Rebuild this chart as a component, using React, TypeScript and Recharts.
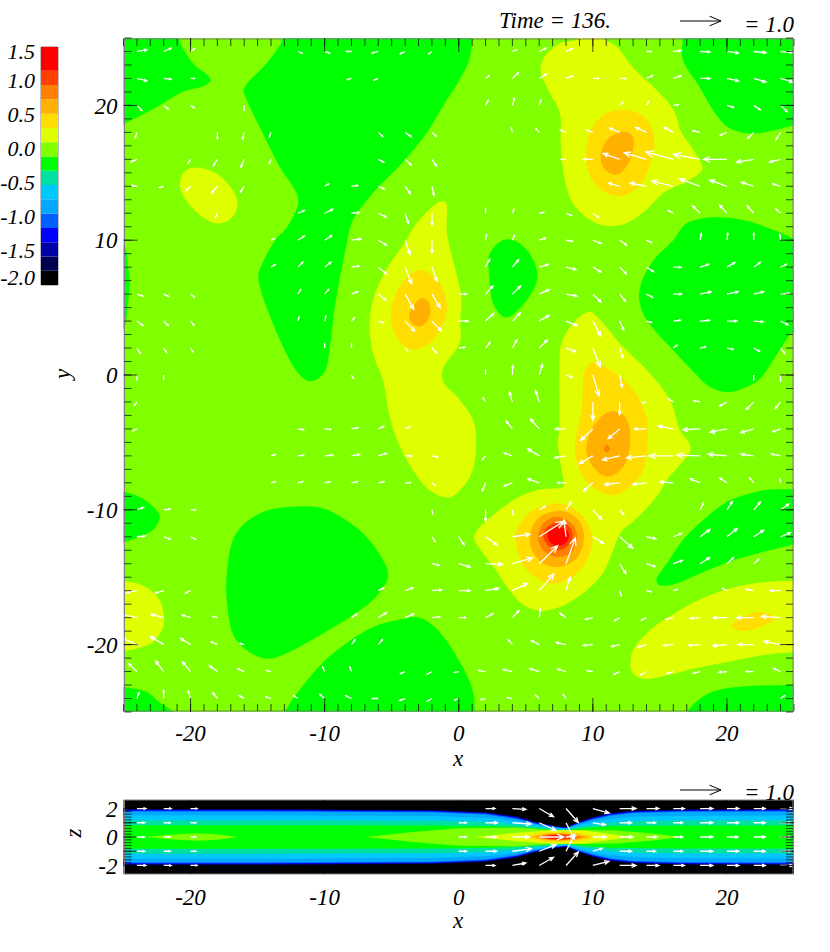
import { ScatterChart, Scatter, XAxis, YAxis, BarChart, Bar, ReferenceArea } from 'recharts';

const serif = 'Liberation Serif';
const labelFont = { fontFamily: serif, fontStyle: 'italic', fontSize: 23, fill: '#000' };
const unitPx = 41; // length of a 1.0 arrow

// colour levels, low to high
const levelColors = ['#000000', '#000050', '#0000a8', '#0000ff', '#0060ff', '#00a8ff', '#00c8ff', '#00e0a0', '#00ff00', '#7fff00', '#dfff00', '#ffdd00', '#ffb000', '#ff7f00', '#ff4000', '#ff0000'];
const levelHeights = [0.21, 0.21, 0.21, 0.21, 0.21, 0.21, 0.21, 0.21, 0.21, 0.21, 0.21, 0.21, 0.21, 0.21, 0.21, 0.35];
const barValues = [-2, -1.5, -1, -0.5, 0, 0.5, 1, 1.5];

const xLabelTicks = [-20, -10, 0, 10, 20];
const yLabelTicks = [-20, -10, 0, 10, 20];
const zLabelTicks = [-2, 0, 2];
const zMajorTicks = [-2, -1, 0, 1, 2];
const unitTicks = Array.from({ length: 51 }, (_, i) => i - 25);
const zMinorTicks = Array.from({ length: 21 }, (_, i) => -2 + i * 0.2);
const frameAnchor = [{ x: 0, y: 0 }];

// top view, contours of each level as [x, y]
const planeBase = [[-27, -27], [-27, 27], [27, 27], [27, -27]];
const greenTopLeft = [[-27, 27], [-20.9, 27], [-20.9, 25], [-19.8, 23.1], [-18.7, 22.2], [-18.5, 21.85], [-19.1, 21.4], [-20.6, 21], [-22.3, 20], [-25, 18.6], [-27, 17.6]];
const greenCentre = [[-13.1, 27], [-13.1, 25], [-14.35, 23.1], [-16, 21.3], [-15.85, 20.5], [-14.85, 18.4], [-13.35, 15.45], [-12.1, 13.5], [-12, 12.6], [-12.85, 10.9], [-13.7, 10], [-14.85, 7.8], [-14.9, 6.8], [-13.85, 3.8], [-12.6, 1.1], [-11.6, -0.25], [-10.9, -0.45], [-10, 0.25], [-9.6, 2.1], [-9.25, 5.05], [-8.3, 10], [-7.9, 11.5], [-6.4, 13.5], [-4.15, 15.8], [-2.4, 17.95], [-0.9, 20.4], [0.07, 21.9], [0.8, 23.4], [1, 25], [1.1, 27]];
const greenTopRight = [[16.6, 27], [16.7, 25], [16.7, 23.4], [18, 21.3], [19.2, 19.3], [20.2, 18.3], [21.95, 17.9], [23.7, 18.2], [25, 18.55], [27, 19], [27, 27]];
const greenSmall = [[3.3, 10], [2.3, 9], [2.26, 7.55], [2.56, 5.3], [3.43, 4.28], [4.3, 4.7], [5.42, 6.06], [5.87, 7.3], [5.42, 8.8], [4.3, 9.9]];
const greenRight = [[16, 10], [17, 11.25], [19, 11.7], [21.2, 11.5], [23.5, 10.75], [25, 10.1], [27, 9.2], [27, 0.6], [25, 3.1], [23.95, 1.85], [22.5, -0.25], [21.5, -0.87], [20.1, -1.27], [18.7, -0.87], [17.5, 0.24], [15.5, 2.35], [14, 4.1], [13.45, 5.6], [13.65, 6.93], [14.5, 8.5]];
const greenEdge = [[-27, 11], [-25, 9.7], [-24.65, 8], [-24.55, 6.8], [-24.7, 5], [-25, 3.4], [-27, 1.5]];
const greenLeft = [[-27, -8.2], [-25.1, -8.6], [-23.6, -9.15], [-22.45, -10.15], [-22.3, -10.65], [-22.8, -11.5], [-24.05, -12.1], [-25.1, -12.45], [-27, -13]];
const greenLower = [[-11.9, -9.75], [-14.1, -10], [-15.85, -10.9], [-16.85, -12.25], [-17.3, -14.75], [-17.3, -16.7], [-16.85, -19.2], [-15.85, -20.4], [-14.35, -21.05], [-12.85, -20.65], [-10.6, -19.45], [-8.1, -17.95], [-6.4, -16.7], [-5.3, -15.1], [-5.5, -14], [-6.9, -12], [-8.6, -10.65], [-10.1, -9.9]];
const greenBottom = [[-14.4, -27], [-13, -25], [-12.1, -23.65], [-10.1, -21.3], [-8.1, -19.7], [-6.4, -18.7], [-4.65, -18.2], [-2.9, -18], [-1.4, -19.1], [0.2, -21.5], [1.04, -23.4], [1.2, -25], [1.3, -27]];
const greenBottomLeft = [[-27, -23], [-25, -23.15], [-23.3, -23.5], [-22.3, -24.3], [-21.3, -25], [-19.5, -27], [-27, -27]];
const greenBottomRight = [[15.5, -27], [17, -25], [18, -24], [19.2, -23.4], [21.2, -23.1], [25, -23], [27, -23], [27, -27]];
const greenBand = [[14.75, -15.35], [15, -15.6], [16, -15.55], [18, -14.73], [20.5, -13.75], [23.2, -13], [25, -12.55], [27, -12], [27, -8.3], [25, -8.47], [23.2, -8.5], [21.5, -8.84], [20, -9.4], [18.2, -10.77], [16.7, -12.26], [15.5, -14], [14.8, -15]];

const yellowOval = [[-19.6, 15.4], [-18.1, 14.97], [-16.85, 13.7], [-16.5, 12.6], [-17, 11.6], [-18.1, 11.25], [-19.3, 11.87], [-20.45, 13.1], [-20.8, 14.1], [-20.45, 15.1]];
const yellowMiddle = [[-1.05, 12.9], [-0.87, 12.5], [-0.9, 11], [-0.8, 10], [-0.17, 7.5], [0.2, 5.7], [0.1, 4], [0.07, 2.35], [-1.17, 0.5], [-1.1, -0.6], [0, -1.74], [1.07, -3.35], [1.3, -5.1], [0.95, -7.3], [-0.17, -8.8], [-0.8, -9.1], [-1.8, -8.8], [-2.9, -7.8], [-4.4, -5.3], [-5.15, -3.1], [-5.65, -0.4], [-6.4, 1.6], [-6.65, 3.6], [-6.4, 5.55], [-5.4, 7.8], [-3.9, 10], [-3.15, 11.25], [-1.65, 12.75]];
const goldMiddle = [[-2.8, 7.8], [-4.15, 6.9], [-5, 5.07], [-4.9, 3.34], [-4, 2.1], [-3.15, 1.9], [-1.9, 2.6], [-1.05, 4.08], [-0.9, 5.3], [-1.4, 6.8]];
const amberMiddle = [[-2.8, 5.7], [-3.5, 4.95], [-3.7, 4.2], [-3.3, 3.7], [-2.8, 3.6], [-2.3, 4.1], [-2.1, 4.8], [-2.3, 5.45]];
const yellowTop = [[8.9, 27], [8.9, 25], [7.5, 24.6], [6.4, 23.6], [6.1, 22.5], [6.8, 20.9], [7.55, 19.4], [7.6, 17.2], [7.9, 14.5], [8.5, 12.75], [9.8, 11.5], [11, 11.05], [12.5, 11.25], [14, 12.25], [15.25, 13.5], [17, 14.35], [18, 15], [18.2, 15.4], [17.5, 16.7], [16.6, 18], [16, 19.7], [14.75, 21.15], [13, 22.8], [11.75, 24.4], [10.8, 25], [10.8, 27]];
const goldTop = [[12.3, 19.7], [10.8, 19.3], [9.8, 18], [9.5, 16.2], [9.9, 14.5], [11, 13.5], [12.25, 13.3], [13.6, 14.2], [14.5, 16.45], [14.5, 18], [13.75, 19.2]];
const amberTop = [[12.25, 18.05], [11.15, 17.55], [10.6, 16.45], [10.8, 15.35], [11.75, 14.85], [12.6, 15.6], [13.05, 17], [12.9, 17.8]];
const yellowRight = [[9.75, 4.7], [8.5, 3.8], [7.65, 2.35], [7.5, 0.12], [7.5, -3.85], [7.4, -5.3], [7.8, -7.8], [7.8, -8.3], [6, -8.5], [4.3, -9.15], [2.56, -10.4], [1.2, -11.76], [1.3, -12.5], [2.56, -14.2], [4.05, -16.3], [5.05, -17.2], [6.3, -17.5], [7.8, -17.1], [9.5, -16], [10.75, -14.7], [11.5, -13], [12.1, -11.65], [13.25, -10.65], [14.75, -9.04], [15.5, -7.8], [16.2, -7], [17.3, -5.45], [16.5, -4.1], [15.75, -1.86], [14.25, 0.12], [12, 2.35], [10.8, 3.8]];
const goldRight = [[9.75, 0.9], [9.3, -0.13], [9.2, -2.35], [8.65, -5.3], [9, -7.05], [10, -8.3], [11.5, -8.9], [12.75, -8.3], [13.75, -7.05], [14.1, -4.8], [14, -3.1], [13, -1.1], [11.5, 0.24], [10.3, 0.86]];
const amberRight = [[11.4, -2.68], [10.5, -3.2], [9.65, -4.6], [9.6, -6.07], [10.5, -7.3], [11.4, -7.5], [12.4, -6.56], [12.8, -4.6], [12.4, -3.1]];
const orangeRight = [[11.05, -5.15], [11.27, -5.45], [11.05, -5.75], [10.83, -5.45]];
const goldPeak = [[7.15, -9.53], [5.55, -10.03], [4.43, -11.27], [4.25, -12.5], [4.9, -14.24], [6.3, -15.3], [7.5, -15.42], [9.03, -14.48], [9.9, -12.87], [9.9, -11.76], [9.28, -10.52], [8.3, -9.73]];
const amberPeak = [[7.3, -10.08], [6.05, -10.52], [5.35, -11.64], [5.42, -12.87], [6.3, -13.99], [7.5, -14.24], [8.78, -13.62], [9.33, -12.26], [9.08, -11], [8.3, -10.28]];
const orangePeak = [[7.3, -10.52], [6.3, -11.02], [5.92, -12], [6.3, -13], [7.3, -13.5], [8.3, -13.25], [8.83, -12.26], [8.53, -11.14]];
const scarletPeak = [[7.41, -10.9], [6.6, -11.27], [6.3, -12], [6.67, -12.63], [7.41, -13], [8.16, -12.63], [8.48, -11.88], [8.16, -11.14]];
const redPeak = [[7.41, -11.27], [6.8, -11.5], [6.62, -12], [6.92, -12.5], [7.5, -12.68], [8.03, -12.38], [8.23, -11.88], [7.98, -11.46]];
const yellowLower = [[12.8, -21.54], [13, -20.4], [14.25, -18.94], [16.25, -17.58], [18.7, -16.34], [21.2, -15.6], [23.7, -15.3], [25, -15.3], [27, -15.3], [27, -20.4], [25, -20.55], [22.5, -20.8], [20, -21.3], [17.5, -21.8], [15, -22.4], [13.75, -22.53], [13, -22.16]];
const goldLower = [[20.3, -18.6], [21.2, -17.95], [22.45, -17.58], [23.3, -17.82], [23.45, -18.2], [22.45, -18.7], [21.2, -19]];
const yellowLeft = [[-27, -15.3], [-25.1, -15.3], [-23.6, -15.6], [-22.45, -16.46], [-22, -17.7], [-22.05, -18.7], [-22.8, -19.8], [-24.05, -20.3], [-25.1, -20.47], [-27, -20.6]];

const planeContours: [number[][], string][] = [
  [greenTopLeft, '#00ff00'], [greenCentre, '#00ff00'], [greenTopRight, '#00ff00'], [greenSmall, '#00ff00'], [greenRight, '#00ff00'], [greenEdge, '#00ff00'], [greenLeft, '#00ff00'], [greenLower, '#00ff00'], [greenBottom, '#00ff00'], [greenBottomLeft, '#00ff00'], [greenBottomRight, '#00ff00'], [greenBand, '#00ff00'],
  [yellowOval, '#dfff00'], [yellowMiddle, '#dfff00'], [yellowTop, '#dfff00'], [yellowRight, '#dfff00'], [yellowLower, '#dfff00'], [yellowLeft, '#dfff00'],
  [goldMiddle, '#ffdd00'], [goldTop, '#ffdd00'], [goldRight, '#ffdd00'], [goldPeak, '#ffdd00'], [goldLower, '#ffdd00'],
  [amberMiddle, '#ffb000'], [amberTop, '#ffb000'], [amberRight, '#ffb000'], [amberPeak, '#ffb000'],
  [orangeRight, '#ff7f00'], [orangePeak, '#ff7f00'], [scarletPeak, '#ff4000'], [redPeak, '#ff0000'],
];

// top view velocity, each row is y with [x, u, v] per arrow
const planeArrows: [number, number[][]][] = [
  [24, [[-24, .24, .04], [-22, .18, .08], [-20, .1, .07], [-12, .1, -.04], [-10, .12, -.04], [-8, -.12, 0], [-6, -.15, -.04], [-4, -.12, -.06], [-2, -.08, -.06], [4, .1, .04], [6, .16, .08], [8, .15, .07], [14, .11, 0], [16, .19, .02], [18, .24, -.01], [20, .28, -.04], [22, .3, -.03], [24, .3, -.02]]],
  [22, [[-24, .24, -.06], [-22, .18, -.02], [-20, .1, 0], [-8, -.1, -.03], [-6, -.1, -.04], [2, .09, .07], [4, .15, .14], [6, .18, .11], [8, .17, .06], [10, .15, 0], [12, .14, 0], [14, .15, .07], [16, .19, .06], [18, .24, 0], [20, .28, -.06], [22, .3, -.09], [24, .3, -.09]]],
  [20, [[-24, .12, -.12], [-22, .11, -.09], [-20, .09, -.06], [-16, 0, -.11], [2, .06, .12], [4, .05, .17], [6, .04, .13], [12, .08, .08], [14, .06, .1], [16, .12, .02], [20, .16, -.05], [22, .16, -.11], [24, .16, -.15]]],
  [18, [[-24, -.04, -.13], [-18, 0, -.16], [-16, -.04, -.16], [-14, -.04, -.11], [-6, .11, -.1], [-4, .15, -.11], [-2, .11, -.1], [4, -.03, .11], [6, -.08, .09], [8, -.14, .06], [10, -.16, .06], [12, -.24, .1], [14, -.26, .12], [16, -.22, .12], [18, -.18, .04], [20, -.16, -.07], [22, -.15, -.15], [24, -.11, -.18]]],
  [16, [[-24, -.14, -.06], [-20, -.06, -.1], [-18, -.1, -.16], [-16, -.08, -.19], [-14, -.04, -.1], [-6, .13, -.07], [-4, .15, -.14], [-2, .11, -.16], [8, -.12, 0], [10, -.23, 0], [12, -.4, .14], [14, -.54, .16], [16, -.67, .18], [18, -.65, .12], [20, -.57, 0], [22, -.42, -.07], [24, -.27, -.07]]],
  [14, [[-24, -.12, .02], [-22, -.11, -.03], [-20, -.1, -.1], [-18, -.13, -.16], [-16, -.09, -.14], [-10, .1, .06], [-8, .15, .02], [-6, .15, -.07], [-4, .13, -.18], [-2, .05, -.22], [12, -.27, .08], [14, -.4, .08], [16, -.53, .13], [18, -.5, .18], [20, -.42, .15], [22, -.3, .1], [24, -.19, .06]]],
  [12, [[-18, -.05, -.1], [-12, .16, .07], [-10, .2, .1], [-8, .19, .02], [-6, .19, -.09], [-4, .08, -.25], [-2, 0, -.29], [2, 0, .12], [4, .04, .1], [6, .11, .02], [8, .13, -.05], [10, .14, -.1], [16, -.12, .07], [18, -.18, .18], [20, -.18, .2], [22, -.16, .18], [24, -.11, .1]]],
  [10, [[-14, .08, .04], [-12, .16, .1], [-10, .17, .11], [-8, .23, .03], [-6, .2, -.12], [-4, .12, -.35], [-2, 0, -.31], [2, .02, .13], [4, .05, .12], [6, .15, .05], [8, .16, -.03], [10, .2, -.08], [12, .17, -.12], [14, .12, -.06], [18, .03, .16], [20, .02, .17], [22, 0, .17], [24, -.02, .14]]],
  [8, [[-14, .1, .06], [-12, .12, .12], [-10, .15, .12], [-8, .19, .03], [-6, .2, -.16], [-4, .16, -.41], [-2, .12, -.34], [2, .1, .19], [4, .15, .18], [6, .22, .07], [8, .24, -.06], [10, .2, -.12], [12, .16, -.16], [14, .17, -.11], [16, .19, 0], [18, .21, .07], [20, .19, .11], [22, .16, .12], [24, .14, .07]]],
  [6, [[-24, .15, -.05], [-22, .12, -.06], [-20, .09, -.07], [-12, .07, .11], [-10, .1, .12], [-8, .15, .06], [-6, .18, -.15], [-4, .21, -.37], [-2, .2, -.33], [0, .19, 0], [2, .18, .2], [4, .2, .2], [6, .24, .11], [8, .27, -.05], [10, .2, -.2], [12, .14, -.17], [14, .15, -.08], [16, .2, 0], [18, .27, .06], [20, .27, .06], [22, .24, .06], [24, .22, .02]]],
  [4, [[-24, .15, -.11], [-22, .11, -.11], [-20, .08, -.1], [-12, .03, .1], [-10, .03, .12], [-8, .07, .08], [-6, .13, -.04], [-4, .23, -.24], [-2, .23, -.24], [0, .23, 0], [2, .2, .19], [4, .19, .2], [6, .24, .14], [8, .27, -.11], [10, .19, -.36], [12, .1, -.22], [14, .12, -.03], [16, .17, .02], [18, .23, .02], [20, .24, 0], [22, .23, -.02], [24, .18, -.09]]],
  [2, [[-24, .08, -.13], [-22, .07, -.11], [-20, .06, -.1], [-10, 0, .1], [-8, 0, .1], [-4, .06, -.07], [-2, .12, -.13], [0, .15, .02], [2, .11, .14], [4, .11, .2], [6, .2, .2], [8, .24, -.09], [10, .18, -.46], [12, .08, -.24], [16, .09, .07], [18, .13, .03], [20, .15, -.03], [22, .14, -.08], [24, .1, -.13]]],
  [0, [[-24, 0, -.11], [-22, 0, -.1], [-8, .04, -.08], [2, 0, .11], [4, .01, .23], [6, .08, .26], [8, .15, -.06], [10, .15, -.51], [12, .06, -.3], [22, 0, -.12], [24, 0, -.15]]],
  [-2, [[-24, -.06, -.08], [4, -.07, .24], [2, -.06, .1], [6, -.09, .28], [10, 0, -.45], [12, 0, -.31], [14, -.1, -.02], [16, -.12, .08], [18, -.14, .03], [20, -.18, -.1], [22, -.18, -.18], [24, -.13, -.16]]],
  [-4, [[-24, -.1, -.05], [-12, .14, -.02], [-10, .15, -.01], [-8, .16, .03], [-6, .13, .06], [-4, .12, .05], [4, -.15, .19], [6, -.21, .24], [8, -.26, 0], [10, -.3, -.28], [12, -.28, -.24], [14, -.3, 0], [16, -.37, .07], [18, -.42, -.02], [20, -.41, -.08], [22, -.31, -.09], [24, -.19, -.07]]],
  [-6, [[-14, .1, .03], [-12, .14, .02], [-10, .2, .02], [-8, .2, .04], [-6, .2, .06], [-4, .16, 0], [-2, .14, -.03], [2, -.08, -.09], [4, -.2, .07], [6, -.28, .17], [8, -.28, -.05], [10, -.33, -.19], [12, -.42, -.1], [14, -.49, -.05], [16, -.59, 0], [18, -.57, .02], [20, -.46, .04], [22, -.31, .04], [24, -.23, .05]]],
  [-8, [[-14, .1, .03], [-12, .12, .03], [-10, .13, .03], [-8, .14, .03], [-6, .14, .03], [-4, .13, 0], [-2, .08, -.06], [2, -.08, -.2], [4, -.2, -.08], [6, -.28, .1], [8, -.2, 0], [10, -.23, -.2], [12, -.37, -.04], [14, -.34, -.04], [16, -.32, .02], [18, -.24, .1], [20, -.18, .12], [22, -.1, .12], [24, -.02, .1]]],
  [-10, [[-24, .16, .06], [-22, .16, .02], [-20, .12, 0], [-2, .02, -.1], [2, 0, -.28], [4, .02, -.12], [6, .15, .09], [8, .12, .19], [10, .22, -.24], [12, .1, -.12], [18, .08, .17], [20, .13, .2], [22, .16, .19], [24, .2, .14]]],
  [-12, [[-24, .2, .02], [-22, .16, -.06], [-20, .12, -.06], [-2, .08, -.12], [0, .13, -.2], [2, .28, -.2], [4, .43, .06], [6, .6, .38], [8, -.05, .41], [10, .26, -.16], [12, .32, -.28], [14, .23, -.05], [16, .2, .08], [18, .24, .18], [20, .25, .2], [22, .24, .16], [24, .24, .1]]],
  [-14, [[-2, .18, -.04], [0, .28, -.08], [2, .42, -.02], [4, .49, .14], [6, .45, .44], [8, .23, .63], [12, .15, -.24], [14, .21, -.07], [16, .22, .08], [18, .23, .15], [20, .16, .15], [22, .12, .11]]],
  [-16, [[-24, -.26, -.05], [-22, -.2, -.06], [-20, -.12, -.06], [-6, .13, .07], [-4, .19, .07], [-2, .24, .02], [0, .28, 0], [2, .32, .06], [4, .37, .18], [6, .36, .41], [8, .1, .33], [12, .04, -.13], [14, .11, -.03], [16, .09, .03], [20, -.11, .06], [22, -.19, .04], [24, -.25, 0]]],
  [-18, [[-24, -.42, .09], [-22, -.31, .08], [-20, -.2, .06], [-18, -.11, .03], [-8, .13, .09], [-6, .2, .12], [-4, .21, .09], [-2, .19, .02], [0, .17, 0], [2, .18, .1], [4, .16, .17], [6, .03, .22], [8, -.15, .11], [10, -.18, -.04], [12, -.13, -.08], [14, -.12, -.06], [16, -.18, -.04], [18, -.24, -.02], [20, -.34, 0], [22, -.42, 0], [24, -.47, .03]]],
  [-20, [[-24, -.39, .17], [-22, -.33, .2], [-20, -.24, .15], [-18, -.15, .07], [-16, -.1, .03], [-8, .09, .12], [-6, .1, .12], [4, -.1, .12], [6, -.19, .1], [8, -.24, .05], [10, -.23, -.02], [12, -.2, -.05], [14, -.2, -.06], [16, -.24, -.02], [18, -.28, -.02], [20, -.34, -.03], [22, -.39, 0], [24, -.41, .08]]],
  [-22, [[-24, -.2, .19], [-22, -.2, .26], [-20, -.2, .24], [-18, -.19, .14], [-16, -.15, .07], [-14, -.11, .03], [-10, -.05, .11], [-8, -.04, .11], [-4, -.11, -.05], [-2, -.12, -.07], [0, -.1, -.02], [2, -.18, .03], [4, -.22, .05], [6, -.23, .07], [8, -.2, .06], [10, -.14, .02], [12, -.14, -.07], [14, -.14, -.08], [16, -.16, -.05], [18, -.16, -.04], [20, -.2, -.02], [22, -.18, 0], [24, -.17, .08]]],
  [-24, [[-24, .05, .14], [-22, 0, .2], [-20, -.06, .19], [-18, -.11, .14], [-16, -.12, .07], [-14, -.12, .04], [-12, -.1, .07], [-10, -.12, .1], [-8, -.14, .07], [-6, -.15, 0], [-4, -.14, -.05], [-2, -.12, -.07], [0, -.1, -.04], [2, -.11, -.03], [4, -.12, .02], [6, -.09, .08], [8, -.07, .1], [24, .1, .07]]],
];

// side view, half width of each band at each x station
const sideBase = [[-27, -3], [-27, 3], [27, 3], [27, -3]];
const sideStations = [-27, -15, -2, 2, 4.3, 5.8, 7.3, 8, 8.9, 10, 11.3, 13, 16.7, 27];
const sideBands: [number[], string][] = [
  [[1.96, 1.96, 1.9, 1.76, 1.45, 1.05, .76, .7, 1.05, 1.4, 1.68, 1.85, 1.94, 1.96], '#000050'],
  [[1.93, 1.93, 1.87, 1.73, 1.42, 1.02, .74, .68, 1.02, 1.37, 1.65, 1.82, 1.91, 1.93], '#0000a8'],
  [[1.89, 1.89, 1.83, 1.69, 1.38, .99, .72, .66, .99, 1.33, 1.61, 1.78, 1.87, 1.89], '#0000ff'],
  [[1.85, 1.85, 1.79, 1.65, 1.34, .96, .7, .64, .96, 1.29, 1.57, 1.74, 1.83, 1.85], '#0060ff'],
  [[1.8, 1.8, 1.74, 1.58, 1.27, .92, .67, .62, .92, 1.23, 1.5, 1.68, 1.78, 1.8], '#00a8ff'],
  [[1.52, 1.52, 1.48, 1.36, 1.1, .84, .62, .58, .82, 1.05, 1.28, 1.42, 1.5, 1.52], '#00c8ff'],
  [[1.17, 1.17, 1.15, 1.08, .9, .72, .56, .52, .7, .85, 1, 1.1, 1.16, 1.17], '#00e0a0'],
  [[.82, .82, .8, .78, .7, .6, .5, .46, .58, .68, .75, .78, .81, .82], '#00ff00'],
];
// symmetric lenses around z = 0, upper edge only
const sideLenses: [number[][], string][] = [
  [[[-23.4, 0], [-21, .2], [-19.5, .26], [-18, .2], [-16.5, 0]], '#7fff00'],
  [[[-6.9, 0], [-3.65, .33], [0, .62], [4.3, .66], [6.8, .5], [9, .5], [11.8, .46], [14.3, .26], [16.6, 0]], '#7fff00'],
  [[[1.2, 0], [4.3, .3], [6.8, .47], [9.3, .47], [11, .25], [12.8, 0]], '#dfff00'],
  [[[4.9, 0], [6, .3], [7.5, .36], [9, .3], [10.3, 0]], '#ffdd00'],
  [[[5.4, 0], [6.5, .24], [7.5, .27], [8.7, .22], [9.8, 0]], '#ffb000'],
  [[[5.8, 0], [6.7, .2], [7.5, .22], [8.5, .18], [9.3, 0]], '#ff7f00'],
  [[[6, 0], [6.8, .16], [7.5, .17], [8.2, .14], [8.7, 0]], '#ff4000'],
  [[[6.2, 0], [7, .12], [7.5, .12], [7.9, 0]], '#ff0000'],
];

// side view velocity, each row is z with [x, u, v] per arrow
const sideArrows: [number, number[][]][] = [
  [2, [[-24, .22, 0], [-22, .18, 0], [-20, .16, 0], [2, .23, 0], [4, .33, -.02], [6, .35, -.2], [8, .3, -.34], [10, .4, -.11], [12, .4, 0], [14, .3, 0], [16, .27, 0], [18, .31, 0], [20, .29, 0], [22, .28, 0], [24, .3, 0]]],
  [1, [[-24, .19, 0], [-22, .16, 0], [-20, .13, 0], [0, .19, 0], [2, .29, 0], [4, .46, -.03], [6, .41, -.19], [8, .2, -.39], [10, .31, -.05], [12, .29, 0], [14, .22, 0], [16, .23, 0], [18, .31, 0], [20, .29, 0], [22, .28, 0], [24, .26, 0]]],
  [0, [[-24, .19, 0], [-22, .16, 0], [-20, .13, 0], [0, .19, 0], [2, .27, 0], [4, .42, 0], [6, .6, 0], [8, .24, .03], [10, .33, 0], [12, .32, 0], [14, .26, 0], [16, .23, 0], [18, .31, 0], [20, .27, 0], [22, .28, 0], [24, .26, 0]]],
  [-1, [[-24, .19, 0], [-22, .16, 0], [-20, .13, 0], [0, .19, 0], [2, .27, 0], [4, .46, .06], [6, .41, .16], [8, .21, .41], [10, .23, .07], [12, .29, 0], [14, .22, 0], [16, .23, 0], [18, .31, 0], [20, .29, 0], [22, .28, 0], [24, .26, 0]]],
  [-2, [[-24, .22, 0], [-22, .18, 0], [-20, .16, 0], [2, .23, 0], [4, .33, .06], [6, .35, .2], [8, .3, .33], [10, .39, .1], [12, .4, 0], [14, .3, 0], [16, .27, 0], [18, .31, 0], [20, .29, 0], [22, .28, 0], [24, .3, 0]]],
];

const toPoints = (pts: number[][]) => pts.map(([x, y]) => ({ x, y }));

const flatArrows = (rows: [number, number[][]][]) =>
  rows.flatMap(([y, row]) => row.map(([x, u, v]) => ({ x, y, u, v })));

// closed curve through every traced contour point, tangents weighted by chord length
const closedSpline = (context: any) => {
  let pts: number[][] = [];
  const tangent = (a: number[], b: number[], c: number[]) => {
    const d1 = Math.hypot(b[0] - a[0], b[1] - a[1]) || 1;
    const d2 = Math.hypot(c[0] - b[0], c[1] - b[1]) || 1;
    const w = d1 + d2;
    return [(c[0] - a[0]) / w, (c[1] - a[1]) / w];
  };
  return {
    areaStart() {},
    areaEnd() {},
    lineStart() { pts = []; },
    lineEnd() {
      const n = pts.length;
      if (!n) return;
      context.moveTo(pts[0][0], pts[0][1]);
      for (let i = 0; i < n; i++) {
        const p0 = pts[(i - 1 + n) % n];
        const p1 = pts[i];
        const p2 = pts[(i + 1) % n];
        const p3 = pts[(i + 2) % n];
        const d = Math.hypot(p2[0] - p1[0], p2[1] - p1[1]) / 3;
        const t1 = tangent(p0, p1, p2);
        const t2 = tangent(p1, p2, p3);
        context.bezierCurveTo(p1[0] + t1[0] * d, p1[1] + t1[1] * d, p2[0] - t2[0] * d, p2[1] - t2[1] * d, p2[0], p2[1]);
      }
      context.closePath();
    },
    point(x: number, y: number) { pts.push([x, y]); },
  };
};

const arrowPath = (x0: number, y0: number, dx: number, dy: number) => {
  const len = Math.hypot(dx, dy);
  if (!len) return '';
  const a = Math.atan2(dy, dx);
  const x1 = x0 + dx;
  const y1 = y0 + dy;
  const h = len * 0.3;
  const b1 = a + Math.PI - 0.4;
  const b2 = a + Math.PI + 0.4;
  return `M${x0} ${y0}L${x1} ${y1}M${x1 + h * Math.cos(b1)} ${y1 + h * Math.sin(b1)}L${x1} ${y1}L${x1 + h * Math.cos(b2)} ${y1 + h * Math.sin(b2)}`;
};

const ArrowMark = (props: any) => {
  const { cx, cy, payload } = props;
  return <path d={arrowPath(cx, cy, payload.u * unitPx, -payload.v * unitPx)} fill="none" stroke="#fff" strokeWidth={1.3} />;
};

const NoMark = () => <g />;

const contour = (pts: number[][], color: string, key: string, xId: string, yId: string, curve: any) => (
  <Scatter
    key={key}
    xAxisId={xId}
    yAxisId={yId}
    data={toPoints(pts)}
    shape={NoMark}
    line={{ fill: color, stroke: 'none' }}
    lineJointType={curve}
    isAnimationActive={false}
  />
);

const tickLine = { stroke: '#000', strokeOpacity: 0.7 };
const frameLine = { stroke: '#808080' };
const frameZ = 800; // scatter series sit above axes by default

// an x axis with no series gets no ticks, so each one carries an empty scatter
const xFrame = (id: string, yId: string, orientation: 'top' | 'bottom', ticks: number[], size: number, line: boolean) => [
  <XAxis key={id} xAxisId={id} dataKey="x" zIndex={frameZ} type="number" domain={[-25, 25]} allowDataOverflow orientation={orientation} mirror height={1} ticks={ticks} interval={0} tick={NoMark} tickSize={size} tickLine={tickLine} axisLine={line ? frameLine : false} />,
  <Scatter key={`${id}-anchor`} xAxisId={id} yAxisId={yId} data={frameAnchor} shape={NoMark} isAnimationActive={false} />,
];

const yFrame = (id: string, orientation: 'left' | 'right', domain: number[], ticks: number[], size: number, line: boolean) => (
  <YAxis key={id} yAxisId={id} zIndex={frameZ} type="number" domain={domain} allowDataOverflow orientation={orientation} mirror width={1} ticks={ticks} interval={0} tick={NoMark} tickSize={size} tickLine={tickLine} axisLine={line ? frameLine : false} />
);

const ColorTick = (props: any) => {
  const { x, y, payload } = props;
  const value = payload.value - 2;
  const shift = value === 1.5 ? 5 : value === -2 ? -7 : 0;
  return <text x={x} y={y + shift} dy={7} textAnchor="end" {...labelFont} fontSize={22}>{value.toFixed(1)}</text>;
};

const colorRow = [{ name: 'level', ...Object.fromEntries(levelHeights.map((h, i) => [`l${i}`, h])) }];

const App = () => {
  return (
    <div style={{ position: 'absolute', left: 0, top: 0, width: 830, height: 952, background: '#fff', overflow: 'hidden' }}>
      {/* top view */}
      <div style={{ position: 'absolute', left: 0, top: 0 }}>
        <ScatterChart width={830} height={770} margin={{ top: 38, right: 36, bottom: 18, left: 83.5 }}>
          <XAxis xAxisId="m" dataKey="x" type="number" domain={[-25, 25]} allowDataOverflow ticks={xLabelTicks} interval={0} height={40} tickSize={0} tickMargin={13} tick={labelFont} tickLine={false} axisLine={false} />
          <YAxis yAxisId="m" dataKey="y" type="number" domain={[-25, 25]} allowDataOverflow ticks={yLabelTicks} interval={0} width={40} tickSize={0} tickMargin={6} tick={labelFont} tickLine={false} axisLine={false} />
          {contour(planeBase, '#7fff00', 'base', 'm', 'm', 'linearClosed')}
          {planeContours.map(([pts, color], i) => contour(pts, color, `c${i}`, 'm', 'm', closedSpline))}
          <Scatter xAxisId="m" yAxisId="m" data={flatArrows(planeArrows)} shape={ArrowMark} isAnimationActive={false} />
          {xFrame('bMin', 'm', 'bottom', unitTicks, 7, true)}
          {xFrame('bMaj', 'm', 'bottom', xLabelTicks, 14, false)}
          {xFrame('tMin', 'm', 'top', unitTicks, 7, true)}
          {xFrame('tMaj', 'm', 'top', xLabelTicks, 14, false)}
          {yFrame('lMin', 'left', [-25, 25], unitTicks, 7, true)}
          {yFrame('lMaj', 'left', [-25, 25], yLabelTicks, 14, false)}
          {yFrame('rMin', 'right', [-25, 25], unitTicks, 7, true)}
          {yFrame('rMaj', 'right', [-25, 25], yLabelTicks, 14, false)}
        </ScatterChart>
      </div>

      {/* side view */}
      <div style={{ position: 'absolute', left: 0, top: 770 }}>
        <ScatterChart width={830} height={170} margin={{ top: 30, right: 36, bottom: 26, left: 83.5 }}>
          <XAxis xAxisId="s" dataKey="x" type="number" domain={[-25, 25]} allowDataOverflow ticks={xLabelTicks} interval={0} height={40} tickSize={0} tickMargin={15} tick={labelFont} tickLine={false} axisLine={false} />
          <YAxis yAxisId="s" dataKey="y" type="number" domain={[-2.6, 2.6]} allowDataOverflow ticks={zLabelTicks} interval={0} width={40} tickSize={0} tickMargin={6} tick={labelFont} tickLine={false} axisLine={false} />
          {contour(sideBase, '#000', 'base', 's', 's', 'linearClosed')}
          {sideBands.map(([half, color], i) =>
            contour(
              [...sideStations.map((x, k) => [x, half[k]]), ...sideStations.map((x, k) => [x, -half[k]]).reverse()],
              color, `b${i}`, 's', 's', 'linearClosed'
            )
          )}
          {sideLenses.map(([upper, color], i) =>
            contour(
              [...upper, ...upper.slice(1, -1).map(([x, z]) => [x, -z]).reverse()],
              color, `l${i}`, 's', 's', 'linearClosed'
            )
          )}
          <Scatter xAxisId="s" yAxisId="s" data={flatArrows(sideArrows)} shape={ArrowMark} isAnimationActive={false} />
          {xFrame('sb', 's', 'bottom', xLabelTicks, 2, true)}
          {xFrame('st', 's', 'top', xLabelTicks, 2, true)}
          {yFrame('slMin', 'left', [-2.6, 2.6], zMinorTicks, 7, true)}
          {yFrame('slMaj', 'left', [-2.6, 2.6], zMajorTicks, 13, false)}
          {yFrame('srMin', 'right', [-2.6, 2.6], zMinorTicks, 7, true)}
          {yFrame('srMaj', 'right', [-2.6, 2.6], zMajorTicks, 13, false)}
        </ScatterChart>
      </div>

      {/* colour bar */}
      <div style={{ position: 'absolute', left: 0, top: 0 }}>
        <BarChart width={60} height={300} data={colorRow} barCategoryGap={0} margin={{ top: 47, right: 2, bottom: 15, left: 0 }}>
          <XAxis dataKey="name" hide />
          <YAxis type="number" width={41} domain={[0, 3.5]} allowDataOverflow ticks={barValues.map(v => v + 2)} interval={0} tick={ColorTick} tickSize={0} tickLine={false} axisLine={false} tickMargin={6} />
          {levelColors.map((c, i) => (
            <Bar key={c} dataKey={`l${i}`} stackId="bar" fill={c} isAnimationActive={false} />
          ))}
          <ReferenceArea y1={0} y2={3.5} fill="none" stroke="#808080" />
        </BarChart>
      </div>

      {/* titles and the arrow keys */}
      <svg width={830} height={952} style={{ position: 'absolute', left: 0, top: 0, pointerEvents: 'none' }}>
        <text x={499} y={28} {...labelFont}>Time = 136.</text>
        <path d={arrowPath(680, 21, unitPx, 0)} fill="none" stroke="#000" />
        <text x={744} y={32} {...labelFont}>= 1.0</text>
        <path d={arrowPath(680, 790, unitPx, 0)} fill="none" stroke="#000" />
        <text x={744} y={800} {...labelFont}>= 1.0</text>
        <text x={458} y={766} textAnchor="middle" {...labelFont}>x</text>
        <text x={458} y={928} textAnchor="middle" {...labelFont}>x</text>
        <text transform="translate(70 374) rotate(-90)" textAnchor="middle" {...labelFont}>y</text>
        <text transform="translate(81 833) rotate(-90)" textAnchor="middle" {...labelFont}>z</text>
      </svg>
    </div>
  );
};

export default App;
